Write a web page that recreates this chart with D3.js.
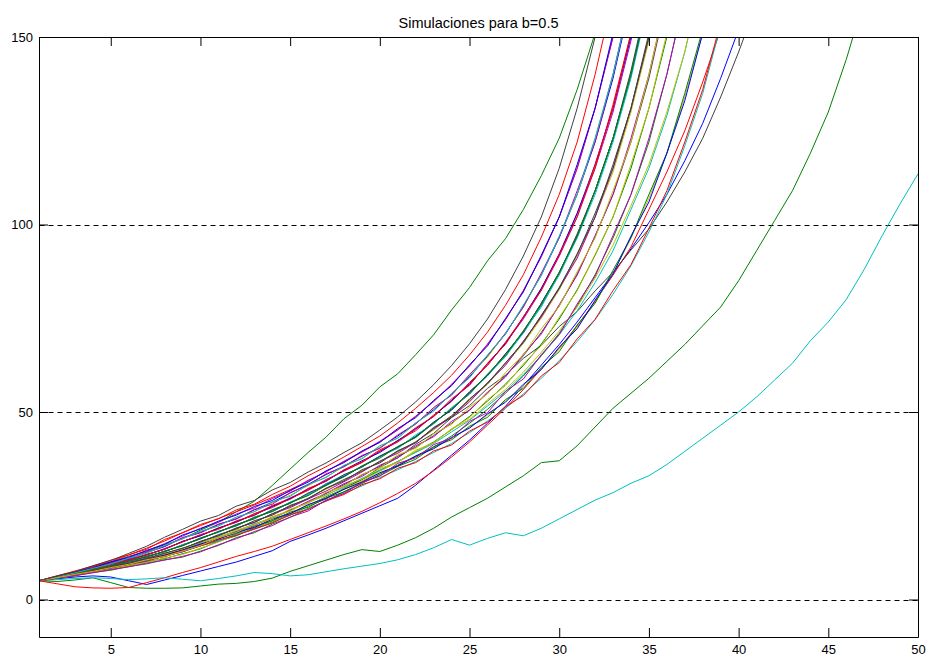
<!DOCTYPE html>
<html>
<head>
<meta charset="utf-8">
<script src="https://cdn.jsdelivr.net/npm/d3@7"></script>
<style>
  body { margin: 0; background: #fff; }
  svg { display: block; }
</style>
</head>
<body>
<div class="canvas"></div>
<script>
// chart texts and ticks
const chartTitle = 'Simulaciones para b=0.5';
const xTicks = [5, 10, 15, 20, 25, 30, 35, 40, 45, 50];
const yTicks = [0, 50, 100, 150];
const gridLevels = [0, 50, 100];

// matlab default line colours, cycled over the runs
const lineColours = ['#0000ff', '#008000', '#ff0000', '#00bfbf', '#bf00bf', '#bfbf00', '#404040'];

// the runs that stand apart from the bundle (value at t = 1, 2, 3, ...)
const lowBlueRun = [5,5.5,6,6.3,6,5,4,5.2,6.4,7.6,8.8,10,11.5,13,15.5,17.2,19,21,23,25,27,30.5,34.5,38.5,42.5,47,51.5,57,62.5,68,74,80.5,87,93.5,100.5,108,117,127,139,152];
const slowGreenRun = [5,4.8,5.2,5.8,4.5,3.2,3,3,3.1,3.6,4.1,4.3,4.8,5.7,7.5,9,10.5,12,13.3,12.8,14.5,16.5,19,22,24.5,27,30,33,36.5,37,41,46,51,55,59,63.5,68,73,78,85,93,101,109,119,130,144,160];
const lowRedRun = [5,4.2,3.4,3.1,3,3.2,4.5,5.8,7.2,8.5,10,11.5,12.8,14.2,16,17.8,19.6,21.5,23.5,25.8,28.3,31,34.3,38,42,46.5,51,56,61.5,67,73,79.5,86.5,94,104,114,125,138,152];
const slowCyanRun = [5,5.3,5.6,5.8,5.6,5.3,5.5,5.8,5.4,5,5.6,6.3,7.2,6.9,6.3,6.6,7.4,8.2,8.9,9.6,10.6,12,13.8,16,14.5,16.3,17.8,17,19,21.5,24,26.5,28.5,31,33,36,39.5,43,46.5,50,54,58.5,63,69,74,80,88,97,105.5,113.5];

// the main bundle of runs
const bundleRuns = [
  [5,6.0,7.0,8.0,9.4,10.6,11.8,13.6,15.3,17.2,19.0,20.6,22.8,24.9,27.1,29.2,32.0,34.2,36.6,39.5,42.0,45.4,49.0,53.0,57.6,62.5,68.3,74.8,82.5,91.5,102,115,130,149,171],
  [5,5.8,6.8,7.6,8.8,9.7,11.0,12.1,13.7,15.2,17.2,18.7,20.9,22.4,24.9,26.9,29.4,31.7,34.4,36.6,39.3,42.1,45.2,48.9,53.0,57.4,62.6,68.3,75.0,82.6,91.5,102,114,130,149,171],
  [5,5.7,6.7,7.4,8.5,9.3,10.6,11.4,12.9,14.3,16.5,17.8,20.1,21.5,23.9,25.9,28.3,30.6,33.2,35.5,38.2,40.6,43.7,47.0,50.6,55.0,59.6,65.0,71.2,78.3,86.8,96.8,108,122,139,160],
  [5,6.0,7.2,8.2,9.7,10.8,12.5,14.1,16.4,17.8,20.0,21.5,23.9,25.9,28.4,30.7,33.3,35.6,38.2,40.5,43.6,47.0,50.6,54.8,59.4,64.9,70.8,78.2,86.5,96.5,108,122,139,160],
  [5,6.3,7.4,8.8,10,11.5,12.8,14.6,16.2,18.5,20.6,23.4,26.2,30.4,34.8,39.2,43.3,48.2,51.8,56.7,60.2,65.3,70.6,77.2,83.2,90.3,96.2,104,113,123,136,151],
  [5,6.3,7.6,8.9,10.5,11.9,13.7,15.6,17.8,19.7,21.6,23.4,25.2,27.2,29.3,31.6,34.2,36.7,39.3,42.0,45.2,48.8,52.8,57.3,62.3,68.0,74.6,82.4,91.5,102,115,131,150,172],
  [5,5.9,6.8,8.0,8.9,10.3,11.3,12.9,14.4,16.4,17.9,20.0,21.6,23.9,25.8,28.2,30.6,33.0,35.6,38.0,40.5,43.6,47.0,50.8,55.0,59.6,64.9,71.0,78.3,86.5,96.5,108,122,139,160],
  [5,5.9,6.7,7.7,8.6,9.9,10.9,12.3,13.5,15.5,17.0,19.0,20.6,22.8,24.5,26.8,28.9,31.4,34.0,36.9,39.0,41.9,45.5,48.6,52.7,57.8,62.4,68.9,75.3,83.0,91.0,102,115,131,150,172],
  [5,6.1,7.1,8.4,9.5,11.1,12.3,14.4,16.2,18.1,19.6,21.9,23.4,25.8,27.8,30.4,32.7,35.4,37.7,40.6,43.2,46.8,51.0,54.5,59.8,64.6,71.0,77.9,86.7,96.8,108,123,140,161],
  [5,5.8,6.4,7.4,8.1,9.3,10.2,11.6,12.7,14.3,15.6,17.4,18.8,21.0,22.5,25.0,26.8,29.7,32.0,35.2,37.8,41.4,44.3,48.5,51.7,56.3,59.8,64.3,67.8,72.8,76.8,82.3,87.3,93.2,98.8,106,114,123,134,146,159],
  [5,5.8,6.9,7.8,9.1,10.1,11.5,12.7,14.6,16.2,18.1,19.7,21.9,23.5,25.9,27.9,30.8,32.8,35.5,38.2,40.7,43.4,47.3,50.5,55.3,59.8,65.4,71.3,79.0,87.2,97.0,109,123,140,161],
  [5,5.7,6.6,7.3,8.2,9.0,10.1,10.9,12.2,13.5,15.5,17.0,19.1,20.6,22.9,25.0,27.4,29.5,32.0,34.4,36.8,39.4,42.0,45.3,48.8,52.9,57.4,62.4,68.1,74.8,82.6,91.8,102,115,131,150,172],
  [5,6.0,7.1,8.1,9.2,10.6,11.9,13.4,15.5,17.0,19.1,20.6,22.9,24.5,26.9,29.1,31.7,34.4,36.5,39.6,42.4,45.0,49.2,52.8,57.9,62.4,68.6,75.2,83.0,91.8,103,115,132,151,172],
  [5,5.8,6.8,7.6,8.7,9.7,11.0,12.0,13.6,15.0,16.8,18.2,20.2,21.7,23.8,25.9,27.9,30.0,32.3,34.5,36.8,39.2,41.6,44.7,47.8,51.6,55.5,60.0,65.0,70.6,77.0,84.5,93.0,104,115,129,146,167],
  [5,6.1,7.2,8.6,9.8,11.4,12.9,14.9,16.9,19.0,20.6,22.8,24.4,26.9,28.9,31.8,34.0,36.9,39.4,42.2,45.3,48.9,52.8,57.4,62.3,68.1,74.6,82.3,91.4,102,115,131,150,172],
  [5,5.8,6.7,7.6,8.5,9.7,10.6,12.0,13.1,14.9,16.1,18.0,19.2,21.5,23.0,25.2,27.2,29.3,31.5,33.6,35.8,38.0,40.4,43.0,45.9,49.2,52.9,57.0,61.6,66.8,72.6,79.2,87.0,96.3,107,119,134,151],
  [5,5.9,6.8,7.7,8.8,9.8,11.0,12.3,13.5,15.5,17.0,19.1,20.5,22.9,24.8,27.0,29.6,32.0,34.2,36.8,39.5,42.0,45.6,49.0,53.3,57.7,63.0,68.7,75.6,83.2,92.0,103,115,131,150,172],
  [5,6.0,6.9,8.2,9.3,10.5,12.0,13.4,15.5,17.0,19.0,20.8,22.5,24.8,26.9,29.5,31.6,34.5,37.0,39.2,42.4,45.6,48.8,53.1,57.3,62.9,68.2,75.3,82.9,92.2,103,116,131,150,172],
  [5,5.7,6.3,7.2,7.8,8.8,9.5,10.6,11.3,12.9,14.4,16.5,17.8,20.1,21.9,24.2,26.3,28.7,30.9,33.4,35.8,38.3,40.6,43.6,47.0,50.7,55.0,59.6,65.0,71.0,78.3,86.6,96.4,108,122,140,161],
  [5,6.2,7.3,8.8,10.1,11.9,13.4,16.0,17.8,20.0,21.5,23.9,25.4,28.0,30.2,33.0,35.4,38.0,40.8,43.6,47.1,51.0,55.2,59.8,65.2,71.3,78.4,86.6,96.6,108,122,140,161],
  [5,6.0,6.8,7.9,9.1,10.1,11.5,12.7,14.6,16.1,18.2,19.6,22.0,23.4,26.0,27.9,30.9,33.2,35.3,38.3,40.3,43.9,46.8,51.2,54.8,60.0,64.7,71.5,78.0,87.0,96.5,109,123,140,162],
  [5,6.0,7.2,8.2,9.7,10.9,12.6,14.2,16.5,17.9,20.1,21.5,24.0,25.4,28.5,30.5,33.5,35.4,38.4,40.3,43.9,46.8,51.2,54.5,60.0,65.0,71.0,78.0,87.0,96.5,109,122,140,161],
  [5,5.7,6.5,7.4,8.1,9.1,9.9,11.1,12.0,13.7,15.3,17.3,18.8,20.9,22.5,25.1,26.9,29.6,31.6,34.2,36.6,39.5,41.8,45.5,48.5,53.3,57.0,62.8,67.7,75.3,82.3,92.0,102,116,131,151],
  [5,5.9,6.9,7.8,9.0,10.3,11.3,12.9,14.3,16.4,18.0,20.0,21.5,23.9,25.6,28.4,30.4,33.3,35.3,38.2,40.6,43.3,47.2,50.6,55.4,59.8,65.5,71.4,79.0,87.0,97.5,109,123,141,162],
  [5,6.1,7.3,8.4,10.0,11.2,13.1,14.7,17.2,18.8,20.9,22.5,24.8,26.4,29.1,31.3,34.3,36.5,39.6,41.9,45.6,48.5,53.1,57.0,62.6,67.6,74.9,82.0,91.8,102,116,131,151,172],
  [5,5.8,6.7,7.5,8.6,9.5,10.8,11.8,13.3,14.6,16.3,17.6,19.5,21.0,23.3,24.6,27.0,28.7,31.2,33.0,35.5,37.4,40.8,42.6,46.2,48.6,53.3,56.3,61.9,66.1,73.2,79.0,87.8,96.5,108,119,135,152],
  [5,5.9,7.1,8.0,9.4,10.5,12.0,13.4,15.4,17.3,18.7,21.0,22.4,25.1,26.7,29.6,31.5,34.6,36.7,39.9,42.1,45.8,48.8,53.5,57.1,63.0,68.0,75.4,82.4,92.0,102,116,131,151,172],
  [5,5.8,6.6,7.6,8.4,9.6,10.5,11.7,12.8,14.5,15.6,17.3,18.7,20.5,22.5,24.3,26.2,28.3,30.3,32.5,34.6,36.8,39.2,41.6,44.5,47.6,51.0,54.8,59.0,63.7,68.8,74.6,81.4,89.0,98.0,108,121,135,153],
  [5,5.8,6.6,7.6,8.4,9.5,10.4,11.6,12.7,14.6,16.2,18.1,19.7,22.0,23.7,26.2,28.3,30.9,32.8,35.8,37.8,41.0,43.4,47.5,50.4,55.3,59.3,65.4,70.8,78.6,86.5,97.0,108,123,140,161],
  [5,5.9,6.7,7.7,8.6,9.8,10.8,12.2,13.4,15.2,16.6,18.5,19.9,22.0,23.6,25.9,27.7,30.3,32.1,34.9,36.6,39.8,41.8,45.4,48.0,52.1,56.0,60.6,65.9,71.6,78.0,85.7,94.5,105,116,130,146,167],
  [5,5.8,6.8,7.7,8.7,9.9,10.9,12.3,13.7,15.3,17.3,18.8,21.0,22.5,25.1,26.8,29.7,31.6,34.6,36.4,39.7,41.8,45.9,48.6,53.5,57.5,63.1,68.5,75.8,82.9,92.2,102,116,131,151,172],
  [5,5.8,6.7,7.6,8.6,9.6,10.7,11.8,13.2,14.8,16.1,17.9,19.2,21.4,22.9,25.3,27.0,29.4,31.3,33.8,35.6,38.2,40.2,43.2,45.7,49.5,52.6,57.4,61.3,67.3,72.2,79.8,86.8,96.9,106,119,133,151],
  [5,5.9,6.9,7.9,8.9,10.2,11.5,12.8,14.4,16.2,18.1,19.7,21.8,23.5,25.8,27.7,30.4,32.7,35.6,37.7,40.8,43.2,47.0,50.9,54.8,60.1,65.0,71.7,78.6,87.3,96.8,109,123,140,161],
  [5,5.7,6.7,7.5,8.6,9.4,10.6,11.6,13.0,14.3,15.9,17.1,18.8,20.4,22.6,24.0,26.3,28.0,30.6,32.2,35.0,36.5,39.6,41.2,44.9,47.3,51.4,54.4,59.6,63.2,69.5,74.7,82.4,89.3,99.0,109,122,136,154],
  [5,6.0,7.1,8.3,9.5,11.0,12.4,14.4,16.2,18.2,19.6,22.0,23.4,26.1,27.5,30.7,32.5,35.8,37.5,41.0,43.0,47.1,50.2,55.0,59.1,65.2,70.8,78.5,86.4,96.9,108,123,140,161],
  [5,5.7,6.4,7.1,8.0,8.7,9.7,10.5,11.5,12.7,14.6,16.2,18.1,19.7,22.0,23.6,26.5,28.3,31.2,32.9,36.3,37.8,41.3,43.0,47.5,49.8,55.5,58.8,65.3,70.6,78.8,86.2,97.1,108,123,140,161],
  [5,5.8,6.7,7.5,8.5,9.4,10.6,11.5,12.9,14.4,16.4,17.9,20.0,21.5,24.1,25.6,28.6,30.2,33.4,35.1,38.6,40.3,44.2,46.7,51.3,54.8,60.5,65.2,72.2,78.2,87.4,96.4,109,122,140,161],
  [5,6.2,7.4,9.0,10.4,12.3,14.2,16.6,18.7,20.9,22.4,24.9,26.4,29.2,31.2,34.0,36.4,39.2,41.8,45.2,48.7,52.7,57.3,62.4,68.2,74.8,82.6,91.6,102,115,131,150,172]
];

// all runs in plotting order
const runs = [lowBlueRun, slowGreenRun, lowRedRun, slowCyanRun, ...bundleRuns];

const width = 927;
const height = 658;
const margin = { top: 37, right: 9, bottom: 21, left: 39 };
const graphWidth = width - margin.left - margin.right;
const graphHeight = height - margin.top - margin.bottom;
const fontFamily = '"Liberation Sans", Arial, Helvetica, sans-serif';

const svg = d3.select('.canvas')
  .append('svg')
    .attr('width', width)
    .attr('height', height)
    .style('background', '#fff');

const graph = svg.append('g')
  .attr('transform', `translate(${margin.left}, ${margin.top})`);

// scales
const x = d3.scaleLinear().domain([1, 50]).range([0, graphWidth]);
const y = d3.scaleLinear().domain([-10, 150]).range([graphHeight, 0]);

// clip the runs to the axes box
svg.append('defs').append('clipPath')
  .attr('id', 'plot-clip')
  .append('rect')
    .attr('x', 0.5)
    .attr('y', 0.5)
    .attr('width', graphWidth)
    .attr('height', graphHeight);

// dashed grid lines
graph.append('g')
  .selectAll('line')
  .data(gridLevels)
  .enter()
  .append('line')
    .attr('x1', 0.5)
    .attr('x2', graphWidth + 0.5)
    .attr('y1', d => Math.round(y(d)) + 0.5)
    .attr('y2', d => Math.round(y(d)) + 0.5)
    .attr('stroke', '#000')
    .attr('stroke-width', 1)
    .attr('stroke-dasharray', '5,4');

// the runs
const line = d3.line()
  .x((d, i) => x(i + 1))
  .y(d => y(d));

graph.append('g')
  .attr('clip-path', 'url(#plot-clip)')
  .selectAll('path')
  .data(runs)
  .enter()
  .append('path')
    .attr('fill', 'none')
    .attr('stroke', (d, i) => lineColours[i % lineColours.length])
    .attr('stroke-width', 1)
    .attr('d', line);

// axes, ticks pointing inwards like matlab
const xAxisGroup = graph.append('g')
  .attr('transform', `translate(0, ${graphHeight})`)
  .call(d3.axisBottom(x).tickValues(xTicks).tickSize(-9).tickSizeOuter(0).tickPadding(8));

graph.append('g')
  .call(d3.axisTop(x).tickValues(xTicks).tickSize(-9).tickSizeOuter(0).tickFormat(''));

const yAxisGroup = graph.append('g')
  .call(d3.axisLeft(y).tickValues(yTicks).tickSize(-9).tickSizeOuter(0).tickPadding(6));

graph.append('g')
  .attr('transform', `translate(${graphWidth}, 0)`)
  .call(d3.axisRight(y).tickValues(yTicks).tickSize(-9).tickSizeOuter(0).tickFormat(''));

graph.selectAll('.domain').attr('stroke', '#000');
graph.selectAll('.tick line').attr('stroke', '#000');

[xAxisGroup, yAxisGroup].forEach(g => {
  g.attr('font-family', fontFamily).attr('font-size', 13);
  g.selectAll('text').attr('fill', '#000');
});

// title
svg.append('text')
  .attr('x', margin.left + graphWidth / 2)
  .attr('y', 28)
  .attr('text-anchor', 'middle')
  .attr('font-family', fontFamily)
  .attr('font-size', 14.5)
  .attr('fill', '#000')
  .text(chartTitle);
</script>
</body>
</html>
